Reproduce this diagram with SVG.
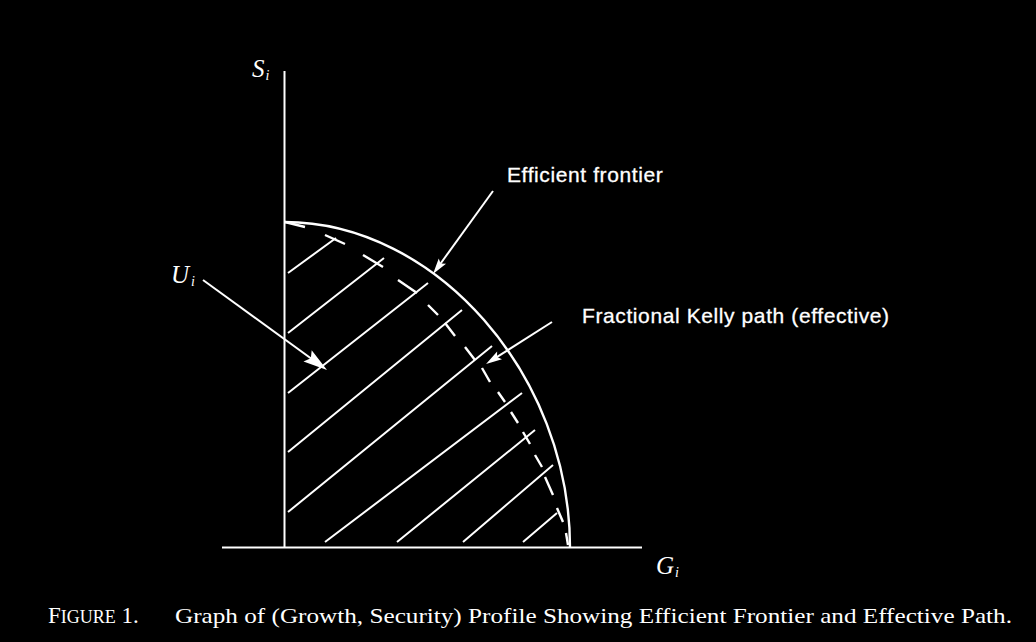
<svg xmlns="http://www.w3.org/2000/svg" width="1036" height="642" viewBox="0 0 1036 642">
<style>
.ln{stroke:#fff;stroke-width:2;fill:none;stroke-linecap:butt}
.crv{stroke:#fff;stroke-width:2.4;fill:none}
.dash{stroke:#fff;stroke-width:2.4;fill:none;stroke-linecap:butt}
.math{font-family:"Liberation Serif",serif;font-style:italic;fill:#fff}
.lbl{font-family:"Liberation Sans",Arial,sans-serif;font-size:21px;fill:#fff;letter-spacing:0.6px;stroke:#fff;stroke-width:0.3}
.cap{font-family:"Liberation Serif",serif;fill:#fff}
</style>
<defs>
<marker id="ah" viewBox="-9 -5 18 10" refX="0" refY="0" markerWidth="18" markerHeight="10" markerUnits="userSpaceOnUse" orient="auto">
<path d="M8,0 L-8,-4.5 L-5,0 L-8,4.5 Z" fill="#fff"/>
</marker>
<marker id="ahBig" viewBox="-13 -8 26 16" refX="0" refY="0" markerWidth="26" markerHeight="16" markerUnits="userSpaceOnUse" orient="auto">
<path d="M12,0 L-12,-7 L-8,0 L-12,7 Z" fill="#fff"/>
</marker>
</defs>
<rect x="0" y="0" width="1036" height="642" fill="#000"/>

<g id="axes">
<line class="ln" x1="284.5" y1="71" x2="284.5" y2="548"/>
<line class="ln" x1="222" y1="547.5" x2="642" y2="547.5"/>
</g>

<g id="hatch">
<path class="ln" d="M288,273 L336,238 M288,333 L384,258 M288,393 L428,283 M288,452 L462,310 M288,512 L492,346 M325,542 L522,393 M397,542 L535,430 M463,542 L553,465 M523,542 L557,513"/>
</g>

<g id="efficient-frontier">
<path class="crv" d="M284.5,222 C436,222 570,375 570,547.5"/>
</g>

<g id="kelly-path">
<path class="dash" d="M285,222 L305,227 M325,235 L345,244 M363,255 L383,267 M398,280 L417,293 M428,305 L438,315 M445,323 L455,336 M465,347 L475,360 M482,368 L490,382 M498,392 L505,402 M511,412 L518,423 M523,432 L530,444 M535,455 L542,467 M545,477 L553,495 M557,508 L563,522 M566,533 L568,545"/>
</g>

<g id="connectors">
<line class="ln" x1="493" y1="191" x2="437.7" y2="267.5" marker-end="url(#ah)"/>
<line class="ln" x1="552" y1="322" x2="492.8" y2="359.7" marker-end="url(#ah)"/>
<line class="ln" x1="203" y1="280" x2="317.3" y2="363" marker-end="url(#ahBig)"/>
</g>

<g id="label-Si">
<text class="math" x="252" y="77" font-size="25">S<tspan font-size="14" dx="1" dy="3">i</tspan></text>
</g>
<g id="label-Ui">
<text class="math" x="171" y="283" font-size="25">U<tspan font-size="14" dx="2" dy="3">i</tspan></text>
</g>
<g id="label-Gi">
<text class="math" x="656" y="574" font-size="25">G<tspan font-size="14" dx="1" dy="3">i</tspan></text>
</g>

<g id="label-efficient">
<text class="lbl" x="507" y="182">Efficient frontier</text>
</g>
<g id="label-kelly">
<text class="lbl" x="582" y="323">Fractional Kelly path (effective)</text>
</g>

<g id="caption">
<text class="cap" x="48" y="623" font-size="23">F<tspan font-size="18">IGURE</tspan> 1.</text>
<text class="cap" x="175" y="623" font-size="22" textLength="837" lengthAdjust="spacingAndGlyphs">Graph of (Growth, Security) Profile Showing Efficient Frontier and Effective Path.</text>
</g>
</svg>
